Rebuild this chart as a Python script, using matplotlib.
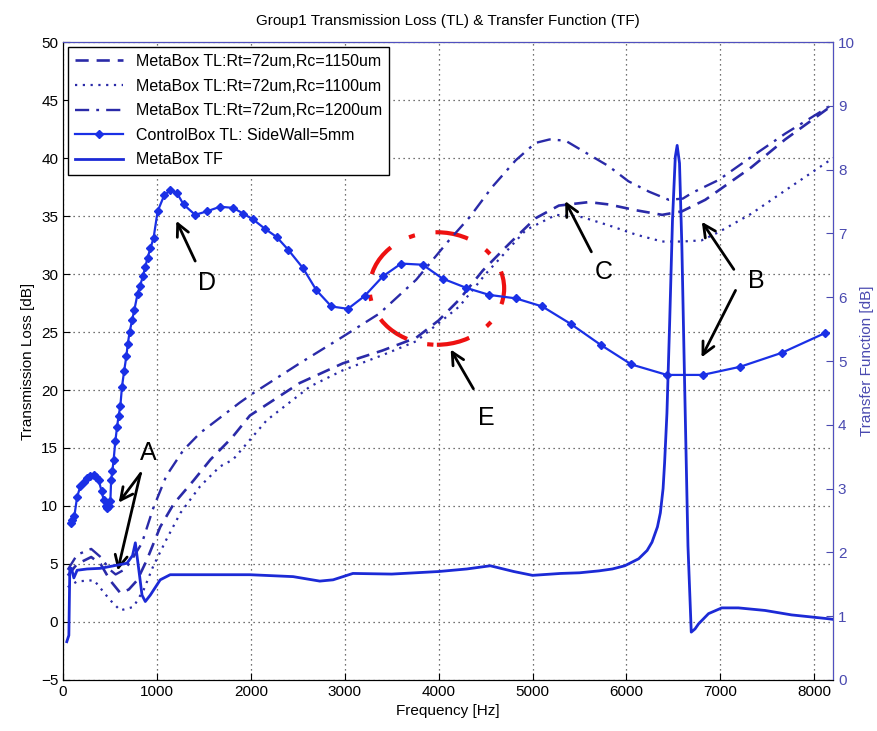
import matplotlib
matplotlib.use("Agg")
import matplotlib.pyplot as plt
from matplotlib.patches import Ellipse

plt.rcParams['font.family'] = ['Liberation Sans', 'DejaVu Sans']

# ---- data ----
f_1150 = [50, 150, 300, 400, 500, 610, 700, 790, 890, 1035, 1180, 1390, 1570, 1800, 1990, 2520, 2980,
          3400, 3760, 4000, 4220, 4470, 4750, 5030, 5280, 5600, 5810, 6100, 6380, 6590, 6840, 6980,
          7330, 7690, 8150, 8200]
tl_1150 = [4.0, 5.0, 5.6, 5.0, 3.6, 2.5, 2.8, 3.6, 5.3, 8.2, 10.2, 12.2, 14.0, 15.9, 17.8, 20.6, 22.3,
           23.4, 24.5, 26.0, 27.8, 30.3, 32.6, 34.8, 35.9, 36.2, 36.0, 35.5, 35.1, 35.4, 36.4, 37.2,
           39.2, 41.6, 44.3, 44.6]

f_1100 = [50, 150, 330, 500, 610, 750, 860, 960, 1100, 1250, 1460, 1670, 1810, 2170, 2630, 2980, 3400,
          3760, 4220, 4500, 4930, 5250, 5530, 5810, 6100, 6380, 6590, 6800, 6980, 7330, 7690, 8110, 8200]
tl_1100 = [3.0, 3.5, 3.6, 1.9, 1.0, 1.3, 2.8, 4.8, 7.1, 9.4, 11.7, 13.4, 14.0, 17.4, 20.3, 21.7, 23.0,
           24.2, 27.2, 30.0, 33.8, 35.1, 34.9, 34.2, 33.4, 32.8, 32.8, 32.9, 33.6, 35.2, 37.2, 39.5, 40.0]

f_1200 = [50, 150, 300, 400, 500, 560, 650, 720, 840, 960, 1100, 1280, 1460, 1670, 1880, 2020, 2520,
          2980, 3370, 3760, 4110, 4330, 4570, 4820, 5030, 5180, 5350, 5600, 5810, 6020, 6240, 6450,
          6600, 6700, 6980, 7330, 7690, 8150, 8200]
tl_1200 = [4.5, 5.8, 6.3, 5.6, 4.5, 4.1, 4.5, 5.2, 6.8, 9.8, 12.6, 14.8, 16.3, 17.6, 18.9, 19.7, 22.3,
           24.6, 26.6, 29.5, 32.9, 34.9, 37.5, 39.8, 41.3, 41.6, 41.5, 40.3, 39.3, 38.0, 37.1, 36.4,
           36.5, 37.0, 38.1, 40.1, 42.1, 44.4, 44.7]

f_ctrl = [80, 100, 120, 150, 185, 220, 257, 290, 327, 355, 380, 410, 433, 455, 469, 490, 504, 512,
          525, 539, 557, 575, 592, 610, 628, 650, 674, 690, 709, 735, 759, 794, 820, 851, 875, 900,
          930, 964, 1007, 1078, 1141, 1212, 1283, 1407, 1531, 1672, 1813, 1920, 2025, 2150, 2274,
          2397, 2556, 2698, 2858, 3034, 3211, 3406, 3601, 3830, 4043, 4296, 4538, 4822, 5104, 5406,
          5724, 6053, 6431, 6810, 7210, 7652, 8112]
tl_ctrl = [8.5, 8.8, 9.1, 10.8, 11.7, 12.1, 12.4, 12.6, 12.7, 12.5, 12.2, 11.3, 10.5, 10.0, 9.8,
           10.0, 10.4, 12.2, 13.0, 14.0, 15.6, 16.8, 17.8, 18.6, 20.3, 21.6, 22.9, 24.0, 25.0, 26.0,
           26.9, 28.3, 29.0, 29.8, 30.6, 31.4, 32.2, 33.1, 35.4, 36.8, 37.2, 37.0, 36.0, 35.1, 35.4,
           35.8, 35.7, 35.2, 34.7, 33.9, 33.2, 32.1, 30.5, 28.6, 27.2, 27.0, 28.1, 29.8, 30.9, 30.8,
           29.6, 28.8, 28.2, 27.9, 27.2, 25.7, 23.9, 22.2, 21.3, 21.3, 22.0, 23.2, 24.9]

f_tf = [40, 62, 72, 90, 115, 150, 257, 398, 539, 681, 740, 770, 805, 841, 876, 929, 1035, 1141,
        1500, 1990, 2450, 2734, 2876, 3087, 3500, 4000, 4300, 4550, 4800, 5000, 5300, 5500, 5706,
        5850, 5982, 6130, 6220, 6272, 6330, 6361, 6390, 6406, 6431, 6460, 6490, 6520, 6540, 6565,
        6590, 6620, 6655, 6690, 6730, 6768, 6874, 7015, 7192, 7475, 7758, 8148, 8200]
tf = [0.6, 0.7, 1.75, 1.75, 1.6, 1.72, 1.74, 1.75, 1.79, 1.83, 1.95, 2.15, 1.75, 1.33, 1.23, 1.33,
      1.57, 1.65, 1.65, 1.65, 1.62, 1.55, 1.57, 1.67, 1.66, 1.70, 1.74, 1.79, 1.70, 1.64, 1.67,
      1.68, 1.71, 1.74, 1.79, 1.90, 2.03, 2.16, 2.40, 2.62, 3.00, 3.40, 4.18, 5.6, 7.2, 8.2, 8.38,
      8.1, 6.8, 4.6, 2.1, 0.75, 0.80, 0.88, 1.04, 1.13, 1.13, 1.09, 1.02, 0.96, 0.95]

labels = ["MetaBox TL:Rt=72um,Rc=1150um", "MetaBox TL:Rt=72um,Rc=1100um",
          "MetaBox TL:Rt=72um,Rc=1200um", "ControlBox TL: SideWall=5mm", "MetaBox TF"]

# ---- figure ----
fig = plt.figure(figsize=(8.78, 7.31), dpi=100)
ax1 = fig.add_axes([0.0718, 0.0698, 0.877, 0.8727])
ax2 = ax1.twinx()

c_meta = '#2a2aa8'
c_ctrl = '#1a30e6'
c_tf = '#1c2ad6'

l1, = ax1.plot(f_1150, tl_1150, linestyle=(0, (5, 3)), color=c_meta, lw=1.9)
l2, = ax1.plot(f_1100, tl_1100, linestyle=(0, (1, 2.5)), color=c_meta, lw=1.6)
l3, = ax1.plot(f_1200, tl_1200, linestyle=(0, (6, 3, 1.2, 3)), color=c_meta, lw=1.7)
l4, = ax1.plot(f_ctrl, tl_ctrl, '-', marker='D', ms=4.5, color=c_ctrl, lw=1.6)
l5, = ax2.plot(f_tf, tf, '-', color=c_tf, lw=2.0)

ax1.set_xlim(0, 8200)
ax1.set_ylim(-5, 50)
ax2.set_ylim(0, 10)
ax1.set_xticks(range(0, 8001, 1000))
ax1.set_yticks(range(-5, 51, 5))
ax2.set_yticks(range(0, 11, 1))

ax1.grid(True, linestyle=(0, (1, 3)), color='#444444', lw=0.9)
ax1.tick_params(direction='in', labelsize=11, length=5, top=False)
ax2.tick_params(direction='in', labelsize=11, length=5, colors='#4a4ab0')
ax2.spines['right'].set_color('#5050c0')
ax2.spines['top'].set_color('#5050c0')

ax1.set_xlabel('Frequency [Hz]', fontsize=11)
ax1.set_ylabel('Transmission Loss [dB]', fontsize=11)
ax2.set_ylabel('Transfer Function [dB]', fontsize=11, color='#4a4ab0')
ax1.set_title('Group1 Transmission Loss (TL) & Transfer Function (TF)', fontsize=11, pad=12)

leg = ax2.legend([l1, l2, l3, l4, l5], labels, loc='upper left', fontsize=11.5,
                 fancybox=False, edgecolor='black', framealpha=1, borderaxespad=0.3,
                 handlelength=3, labelspacing=0.6, borderpad=0.45)
leg.get_frame().set_linewidth(1.0)

# ---- annotations ----
akw = dict(arrowstyle='->', color='black', lw=2, mutation_scale=22)
tkw = dict(fontsize=18, ha='center', va='center')
ax1.text(911, 14.6, 'A', **tkw)
ax1.annotate('', xy=(575, 10.1), xytext=(845, 13.0), arrowprops=akw)
ax1.annotate('', xy=(575, 4.2), xytext=(830, 13.0), arrowprops=akw)
ax1.text(1531, 29.2, 'D', **tkw)
ax1.annotate('', xy=(1194, 34.8), xytext=(1420, 30.9), arrowprops=akw)
ax1.text(5759, 30.2, 'C', **tkw)
ax1.annotate('', xy=(5334, 36.5), xytext=(5640, 31.7), arrowprops=akw)
ax1.text(7380, 29.4, 'B', **tkw)
ax1.annotate('', xy=(6786, 34.7), xytext=(7160, 30.2), arrowprops=akw)
ax1.annotate('', xy=(6786, 22.6), xytext=(7175, 28.8), arrowprops=akw)
ax1.text(4503, 17.6, 'E', **tkw)
ax1.annotate('', xy=(4113, 23.7), xytext=(4385, 19.9), arrowprops=akw)

ell = Ellipse((3981, 28.75), width=1433, height=9.7, fill=False, edgecolor='#ee1111',
              lw=3, linestyle=(0, (8, 5, 1.5, 5)))
ax1.add_patch(ell)

fig.savefig('out.png', dpi=100)
